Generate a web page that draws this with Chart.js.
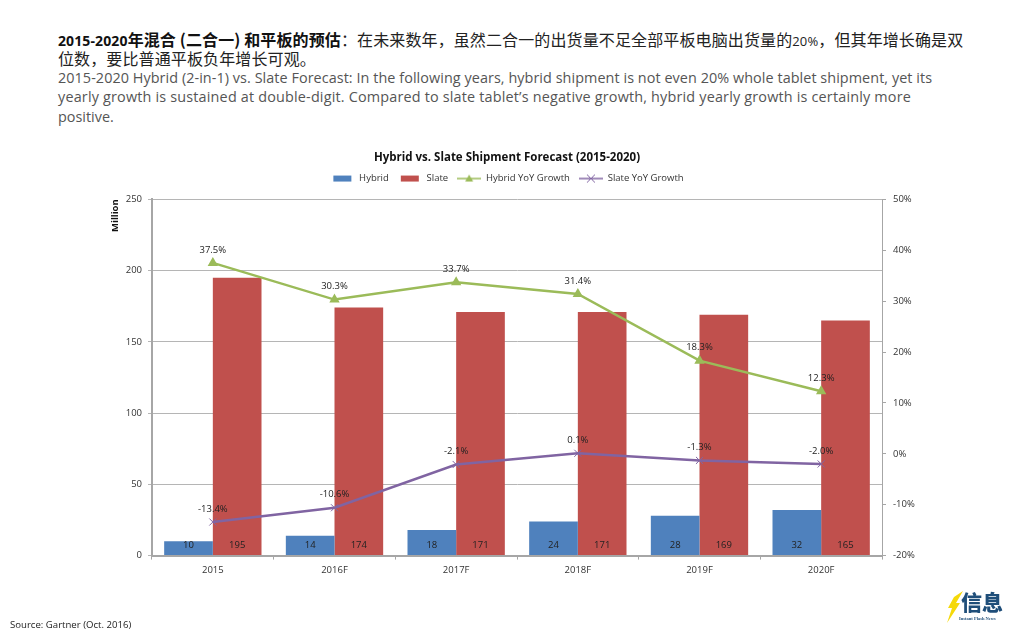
<!DOCTYPE html>
<html>
<head>
<meta charset="utf-8">
<style>
  html, body { margin: 0; padding: 0; background: #fff; }
  #page { position: relative; width: 1024px; height: 640px; overflow: hidden; font-family: "Open Sans", sans-serif; }
  #chart { position: absolute; left: 0; top: 0; }
  .row { position: absolute; left: 58px; white-space: nowrap; }
  .zh { font-family: "Noto Sans CJK SC", sans-serif; font-size: 16px; line-height: 20px; color: #222; letter-spacing: 0.12px; }
  .zh b { color: #111; }
  .en { font-size: 14.4px; line-height: 20px; color: #555; }
  .num { font-family: "Open Sans", sans-serif; font-size: 14px; }
  #source { position: absolute; left: 10px; top: 618px; font-size: 9.6px; color: #222; }
  #logo { position: absolute; left: 946px; top: 590px; width: 62px; height: 36px; }
  #logo svg { position: absolute; left: 0; top: 0; }
  #logo .cn { position: absolute; left: 15px; top: -4px; font: 900 21px/30px "Noto Sans CJK SC", sans-serif; color: #1f4e79; }
  #logo .tag { position: absolute; left: 13px; top: 26px; font: bold 4.5px/6px "Liberation Serif", serif; color: #1f4e79; white-space: nowrap; }
</style>
</head>
<body>
<div id="page">
  <div class="row zh" style="top:29px"><b><span class="num" style="font-weight:700">2015-2020</span>年混合 (二合一) 和平板的预估</b>：在未来数年，虽然二合一的出货量不足全部平板电脑出货量的<span class="num" style="font-size:13px">20%</span>，但其年增长确是双</div>
  <div class="row zh" style="top:48px">位数，要比普通平板负年增长可观。</div>
  <div class="row en" style="top:68px;letter-spacing:0.06px">2015-2020 Hybrid (2-in-1) vs. Slate Forecast: In the following years, hybrid shipment is not even 20% whole tablet shipment, yet its</div>
  <div class="row en" style="top:87px;letter-spacing:0.18px">yearly growth is sustained at double-digit. Compared to slate tablet’s negative growth, hybrid yearly growth is certainly more</div>
  <div class="row en" style="top:107px">positive.</div>
  <canvas id="chart" width="1024" height="640"></canvas>
  <div id="source">Source: Gartner (Oct. 2016)</div>
  <div id="logo">
    <svg width="18" height="34" viewBox="0 0 18 34"><polygon points="17,1 10,13 14,13 1,33 6,18 2,18 8,7" fill="#f5d90a"/></svg>
    <span class="cn">信息</span>
    <span class="tag">Instant Flash News</span>
  </div>
</div>

<script src="https://cdn.jsdelivr.net/npm/chart.js@4"></script>
<script>
var categories = ["2015", "2016F", "2017F", "2018F", "2019F", "2020F"];
var hybrid = [10, 14, 18, 24, 28, 32];
var slate = [195, 174, 171, 171, 169, 165];
var hybridYoY = [37.5, 30.3, 33.7, 31.4, 18.3, 12.3];
var slateYoY = [-13.4, -10.6, -2.1, 0.1, -1.3, -2.0];

var font_family = "'Open Sans', sans-serif";
var text_color = "#333";
var axis_color = "#a6a6a6";

// little pictures for the legend, bars get a box and lines get a line with a marker
var swatch = function (color, marker) {
    var c = document.createElement("canvas");
    c.width = 24;
    c.height = 10;
    var ctx = c.getContext("2d");
    ctx.fillStyle = color;
    ctx.strokeStyle = color;
    if (!marker) {
        ctx.fillRect(3, 2, 18, 6);
        return c;
    }
    ctx.lineWidth = 1.5;
    ctx.beginPath();
    ctx.moveTo(0, 5);
    ctx.lineTo(24, 5);
    ctx.stroke();
    ctx.beginPath();
    if (marker == "triangle") {
        ctx.moveTo(12, 1);
        ctx.lineTo(16, 8);
        ctx.lineTo(8, 8);
        ctx.fill();
    } else {
        ctx.lineWidth = 1;
        ctx.moveTo(8, 1);
        ctx.lineTo(16, 9);
        ctx.moveTo(16, 1);
        ctx.lineTo(8, 9);
        ctx.stroke();
    }
    return c;
};

var swatches = [
    swatch("#4f81bd"),
    swatch("#c0504d"),
    swatch("#9bbb59", "triangle"),
    swatch("#8064a2", "cross")
];

var valueLabels = {
    id: "valueLabels",
    afterDatasetsDraw: function (chart) {
        var ctx = chart.ctx;
        ctx.save();
        ctx.font = "9.5px " + font_family;
        ctx.fillStyle = "#222";
        ctx.textAlign = "center";
        ctx.textBaseline = "middle";
        chart.data.datasets.forEach(function (ds, i) {
            chart.getDatasetMeta(i).data.forEach(function (el, j) {
                if (ds.type == "bar") {
                    ctx.fillText(ds.data[j], el.x, el.base - 10);
                } else {
                    ctx.fillText(ds.data[j].toFixed(1) + "%", el.x, el.y - 13);
                }
            });
        });
        ctx.restore();
    }
};

// more room under the legend, chart.js has no option for it
var legendGap = {
    id: "legendGap",
    beforeInit: function (chart) {
        var fit = chart.legend.fit;
        chart.legend.fit = function () {
            fit.call(this);
            this.height += 6;
        };
    }
};

new Chart(document.getElementById("chart"), {
    data: {
        labels: categories,
        datasets: [
            { type: "bar", label: "Hybrid", data: hybrid, backgroundColor: "#4f81bd", yAxisID: "y", order: 2, categoryPercentage: 0.8, barPercentage: 1 },
            { type: "bar", label: "Slate", data: slate, backgroundColor: "#c0504d", yAxisID: "y", order: 2, categoryPercentage: 0.8, barPercentage: 1 },
            { type: "line", label: "Hybrid YoY Growth", data: hybridYoY, borderColor: "#9bbb59", backgroundColor: "#9bbb59", borderWidth: 2.5, pointStyle: "triangle", pointRadius: 3.5, tension: 0, yAxisID: "y1", order: 1 },
            { type: "line", label: "Slate YoY Growth", data: slateYoY, borderColor: "#8064a2", backgroundColor: "#8064a2", borderWidth: 2.5, pointStyle: "crossRot", pointRadius: 5, pointBorderWidth: 1, tension: 0, yAxisID: "y1", order: 1 }
        ]
    },
    options: {
        responsive: false,
        animation: false,
        layout: { padding: { top: 151, right: 10, bottom: 59, left: 0 } },
        plugins: {
            title: {
                display: true,
                text: "Hybrid vs. Slate Shipment Forecast (2015-2020)",
                color: "#111",
                font: { family: font_family, size: 11.5, weight: "bold" },
                padding: { top: 0, bottom: 0 }
            },
            legend: {
                position: "top",
                labels: {
                    usePointStyle: true,
                    pointStyleWidth: 24,
                    boxHeight: 10,
                    padding: 9,
                    color: text_color,
                    font: { family: font_family, size: 9.5 },
                    generateLabels: function (chart) {
                        return chart.data.datasets.map(function (ds, i) {
                            return { text: ds.label, pointStyle: swatches[i], datasetIndex: i, fontColor: text_color, lineWidth: 0 };
                        });
                    }
                }
            },
            tooltip: { enabled: false }
        },
        scales: {
            x: {
                grid: { drawOnChartArea: false, color: axis_color, tickLength: 4 },
                border: { color: axis_color, width: 2 },
                ticks: { color: text_color, font: { family: font_family, size: 9.5 }, padding: 5, maxRotation: 0 }
            },
            y: {
                position: "left",
                min: 0,
                max: 250,
                afterFit: function (scale) { scale.width = 152; },
                grid: { color: "#b5b5b5", tickLength: 4 },
                border: { color: axis_color, width: 2 },
                ticks: { stepSize: 50, color: text_color, font: { family: font_family, size: 9.5 }, padding: 6 },
                title: {
                    display: true,
                    text: "Million",
                    align: "end",
                    color: "#111",
                    font: { family: font_family, size: 9.5, weight: "bold" },
                    padding: { top: 110, bottom: 0 }
                }
            },
            y1: {
                position: "right",
                min: -20,
                max: 50,
                afterFit: function (scale) { scale.width = 132; },
                grid: { drawOnChartArea: false, color: axis_color, tickLength: 4 },
                border: { color: axis_color, width: 1 },
                ticks: {
                    stepSize: 10,
                    color: text_color,
                    font: { family: font_family, size: 9.5 },
                    padding: 7,
                    callback: function (v) { return v + "%"; }
                }
            }
        }
    },
    plugins: [valueLabels, legendGap]
});
</script>
</body>
</html>
